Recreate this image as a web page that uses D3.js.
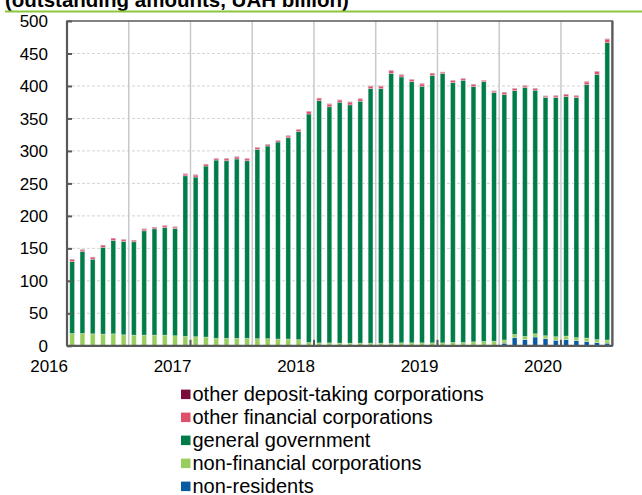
<!DOCTYPE html>
<html><head><meta charset="utf-8">
<script src="https://cdn.jsdelivr.net/npm/d3@7"></script>
<style>
html,body{margin:0;padding:0;background:#fff;}
svg{display:block;font-family:"Liberation Sans",Arial,sans-serif;}
</style></head>
<body>
<svg id="chart" width="642" height="495"></svg>
<script>
// ---- data (UAH billion, monthly Jan 2016 – May 2020) ----
const startMonth = "2016-01";
const yearLabels = ["2016", "2017", "2018", "2019", "2020"];
const yTicks = [0, 50, 100, 150, 200, 250, 300, 350, 400, 450, 500];
const seriesNames = ["non-residents", "non-financial corporations", "general government",
                     "other financial corporations", "other deposit-taking corporations"];
const seriesColors = ["#075ba3", "#97ce5e", "#007c48", "#e0506b", "#7b0c3a"];

const nonResidents = [0,0,0,0,0,0,0,0,0,0,0,0, 0,0,0,0,0,0,0,0,0,0,0,0,
  0,0,0,0,0,0,0,0,0,0,0,0, 0,0,0,0,0,0,4,12.5,9.5,13.5,11,8.5,9.5,8,6.5,5,4];
const nonFinancial = [19,19,18.5,18,18.5,17,16.5,16.5,16.5,16.5,15.5,14.5,
  14,13.5,11.5,11.5,11.5,11.5,11,11,10.5,10.5,9.5,5,
  4.5,4.5,4.1,4.1,4.1,4.1,4.1,4.1,4.6,4.6,4.6,4.6,
  4.6,5.1,5.1,6.1,6.6,7.1,5,5,5,5,4.5,5.5,5.5,4.5,5.5,4.5,5];
const generalGov = [110.6,126.4,114.7,133.5,143.7,143.7,143.7,160.5,163.6,165.6,165.1,247.2,
  245.7,263.2,274.4,273.4,276,273.4,291.4,296.5,303.2,309.8,320.6,351.8,
  373,363.4,370.9,366.8,372.4,391.8,391.8,415.3,409.2,402,394.9,411.7,
  414.4,400,403.6,392.9,400,382.7,377.7,375.4,382.9,374.9,366.6,368.1,368.7,369.6,390,408.4,457.8];
const otherFinancial = [3.1,2.1,3.0,3.1,3.1,2.6,2.1,2.6,2.1,2.6,2.1,2.6,
  3.1,2.6,2.1,3.1,3.1,3.1,2.6,2.1,2.0,2.6,2.6,3.7,
  3.5,4.1,3.1,4.1,3.6,3.6,3.6,4.1,3.1,3.1,3.6,3.1,
  2.0,3.1,2.5,3.1,1.6,2.1,3.1,3.0,2.6,2.5,2.1,2.6,3.1,2.6,4.1,4.1,5.2];
const otherDeposit = [0.6,0.6,0.6,0.6,0.6,0.6,0.6,0.6,0.6,0.6,0.6,0.6,
  0.6,0.6,0.6,0.6,0.6,0.6,0.6,0.6,0.6,0.6,0.6,0.6,
  0.6,0.6,0.6,0.6,0.6,0.6,0.6,0.6,0.6,0.6,0.6,0.6,
  0.6,0.6,0.6,0.6,0.6,0.6,0.6,0.6,0.6,0.6,0.6,0.6,0.6,0.6,0.6,0.6,0.6];
const titleText = "(outstanding amounts, UAH billion)";

// ---- build table ----
const parse = d3.timeParse("%Y-%m");
const months = d3.timeMonth.range(parse(startMonth), d3.timeMonth.offset(parse(startMonth), nonResidents.length));
const keys = ["nr", "nf", "gg", "of", "od"];
const table = months.map((m, i) => ({
  m: d3.timeFormat("%Y-%m")(m),
  nr: nonResidents[i], nf: nonFinancial[i], gg: generalGov[i], of: otherFinancial[i], od: otherDeposit[i]
}));
const stacked = d3.stack().keys(keys)(table);

// ---- layout ----
const svg = d3.select("#chart");
const X0 = 67, X1 = 612.4, Y0 = 345.8, Y1 = 21;
const x = d3.scaleBand().domain(table.map(d => d.m)).range([X0, X1]).paddingInner(0.54).paddingOuter(0.27);
const y = d3.scaleLinear().domain([0, 500]).range([Y0, Y1]);
const step = x.step();
const color = d3.scaleOrdinal().domain(keys).range(seriesColors);

// title + green rule
svg.append("text").attr("x", 5).attr("y", 6.5).attr("font-size", 20.5).attr("font-weight", "bold")
  .attr("fill", "#000").text(titleText);
svg.append("line").attr("x1", 5).attr("x2", 642).attr("y1", 11.5).attr("y2", 11.5)
  .attr("stroke", "#8cc63f").attr("stroke-width", 2);

// horizontal dashed gridlines
svg.append("g").selectAll("line").data(yTicks.filter(t => t > 0 && t < 500)).join("line")
  .attr("x1", X0).attr("x2", X1).attr("y1", d => y(d)).attr("y2", d => y(d))
  .attr("stroke", "#d4d4d4").attr("stroke-width", 1).attr("stroke-dasharray", "3,2");

// vertical gridlines every 6 months
const vIdx = d3.range(6, table.length, 6);
svg.append("g").selectAll("line").data(vIdx).join("line")
  .attr("x1", i => X0 + i * step).attr("x2", i => X0 + i * step)
  .attr("y1", Y1).attr("y2", Y0)
  .attr("stroke", "#c6c9cd").attr("stroke-width", 1.5);

// bars
svg.append("g").selectAll("g").data(stacked).join("g")
  .attr("fill", d => color(d.key))
  .selectAll("rect").data(d => d).join("rect")
  .attr("x", d => x(d.data.m)).attr("width", x.bandwidth())
  .attr("y", d => y(d[1])).attr("height", d => Math.max(0, y(d[0]) - y(d[1])))
  .attr("stroke", "#fff").attr("stroke-opacity", 0.35).attr("stroke-width", 0.8);

// plot frame
svg.append("rect").attr("x", X0).attr("y", Y1).attr("width", X1 - X0).attr("height", Y0 - Y1)
  .attr("fill", "none").attr("stroke", "#595959").attr("stroke-width", 1.5);
svg.append("line").attr("x1", X0).attr("x2", X0).attr("y1", Y1).attr("y2", Y0)
  .attr("stroke", "#595959").attr("stroke-width", 2.2);
svg.append("line").attr("x1", X0).attr("x2", X1).attr("y1", Y0).attr("y2", Y0)
  .attr("stroke", "#595959").attr("stroke-width", 2.2);
svg.append("line").attr("x1", X1).attr("x2", X1).attr("y1", Y1).attr("y2", Y0)
  .attr("stroke", "#595959").attr("stroke-width", 2.2);

// y axis (ticks inward)
const yAxis = svg.append("g").attr("transform", `translate(${X0},0)`)
  .call(d3.axisRight(y).tickValues(yTicks).tickSize(5).tickFormat(""));
yAxis.select(".domain").remove();
yAxis.selectAll("line").attr("stroke", "#595959").attr("stroke-width", 2);
svg.append("g").selectAll("text").data(yTicks).join("text")
  .attr("x", 48).attr("y", d => y(d)).attr("dy", "0.36em").attr("text-anchor", "end")
  .attr("font-size", 17).attr("fill", "#000").text(d => d);

// x axis: year ticks and labels
const yearIdx = yearLabels.map((_, k) => k * 12);
svg.append("g").selectAll("line").data(yearIdx.filter(i => i > 0)).join("line")
  .attr("x1", i => X0 + i * step).attr("x2", i => X0 + i * step)
  .attr("y1", Y0).attr("y2", Y0 - 6).attr("stroke", "#595959").attr("stroke-width", 2);
svg.append("g").selectAll("text").data(yearLabels).join("text")
  .attr("x", (d, k) => X0 + yearIdx[k] * step + 1).attr("y", 372).attr("text-anchor", "end")
  .attr("font-size", 17).attr("fill", "#000").text(d => d);

// legend (top-down: reverse stacking order)
const legendOrder = d3.range(seriesNames.length).reverse();
const lg = svg.append("g").selectAll("g").data(legendOrder).join("g")
  .attr("transform", (d, r) => `translate(181,${394.3 + r * 23})`);
lg.append("rect").attr("x", 0).attr("y", -4.7).attr("width", 9.5).attr("height", 9.5)
  .attr("fill", i => seriesColors[i]);
lg.append("text").attr("x", 11.5).attr("y", 0).attr("dy", "0.35em").attr("font-size", 20)
  .attr("fill", "#000").text(i => seriesNames[i]);
</script>
</body></html>
